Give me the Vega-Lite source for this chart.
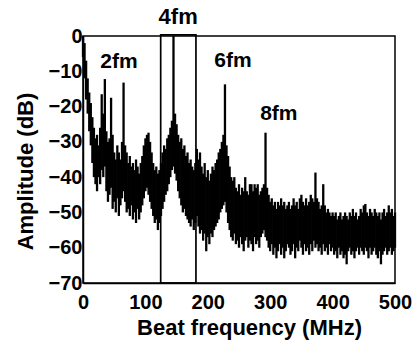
{
  "$schema": "https://vega.github.io/schema/vega-lite/v6.json",
  "width": 312,
  "height": 247,
  "autosize": {"type": "pad"},
  "padding": {"left": 13, "top": 6, "right": 6, "bottom": 2},
  "config": {
    "font": "Liberation Sans",
    "view": {"stroke": "#000", "strokeWidth": 1.5},
    "axis": {
      "grid": false,
      "ticks": false,
      "domainColor": "#000",
      "domainWidth": 1.5,
      "labelFont": "Liberation Sans",
      "labelFontWeight": "bold",
      "labelFontSize": 20,
      "labelColor": "#000",
      "labelOverlap": false,
      "titleFont": "Liberation Sans",
      "titleFontWeight": "bold",
      "titleFontSize": 22,
      "titleColor": "#000"
    }
  },
  "datasets": {
    "spec": [
      {"f":0,"hi":0,"lo":-6},{"f":2.5,"hi":-2,"lo":-12},{"f":5,"hi":-7,"lo":-18},{"f":7.5,"hi":-12,"lo":-22},{"f":10,"hi":-16,"lo":-27},
      {"f":12.5,"hi":-19,"lo":-31},{"f":15,"hi":-23,"lo":-36},{"f":17.5,"hi":-26,"lo":-40},{"f":20,"hi":-29,"lo":-42},{"f":22.5,"hi":-28,"lo":-44},
      {"f":25,"hi":-31,"lo":-40},{"f":27.5,"hi":-26,"lo":-42},{"f":30,"hi":-16.5,"lo":-38},{"f":32.5,"hi":-22,"lo":-40},{"f":35,"hi":-12.2,"lo":-37},
      {"f":37.5,"hi":-27,"lo":-44},{"f":40,"hi":-30,"lo":-47},{"f":42.5,"hi":-29,"lo":-45},{"f":45,"hi":-17.5,"lo":-43},{"f":47.5,"hi":-28,"lo":-49},
      {"f":50,"hi":-33,"lo":-47},{"f":52.5,"hi":-35,"lo":-50},{"f":55,"hi":-31,"lo":-46},{"f":57.5,"hi":-33,"lo":-51},{"f":60,"hi":-35,"lo":-48},
      {"f":62.5,"hi":-30,"lo":-46},{"f":65,"hi":-13.2,"lo":-44},{"f":67.5,"hi":-31,"lo":-47},{"f":70,"hi":-33,"lo":-50},{"f":72.5,"hi":-36,"lo":-49},
      {"f":75,"hi":-34,"lo":-51},{"f":77.5,"hi":-37,"lo":-48},{"f":80,"hi":-36,"lo":-52},{"f":82.5,"hi":-38,"lo":-50},{"f":85,"hi":-35,"lo":-53},
      {"f":87.5,"hi":-37,"lo":-49},{"f":90,"hi":-39,"lo":-52},{"f":92.5,"hi":-36,"lo":-50},{"f":95,"hi":-34,"lo":-48},{"f":97.5,"hi":-31,"lo":-46},
      {"f":100,"hi":-29,"lo":-44},{"f":102.5,"hi":-28,"lo":-43},{"f":105,"hi":-27.4,"lo":-45},{"f":107.5,"hi":-30,"lo":-47},{"f":110,"hi":-33,"lo":-49},
      {"f":112.5,"hi":-36,"lo":-51},{"f":115,"hi":-38,"lo":-53},{"f":117.5,"hi":-37,"lo":-52},{"f":120,"hi":-39,"lo":-55},{"f":122.5,"hi":-38,"lo":-53},
      {"f":125,"hi":-36,"lo":-51},{"f":127.5,"hi":-33,"lo":-49},{"f":130,"hi":-31,"lo":-47},{"f":132.5,"hi":-32,"lo":-45},{"f":135,"hi":-29,"lo":-44},
      {"f":137.5,"hi":-28,"lo":-42},{"f":140,"hi":-26,"lo":-40},{"f":142.5,"hi":-24,"lo":-38},{"f":145,"hi":0,"lo":-37},{"f":147.5,"hi":-22,"lo":-39},
      {"f":150,"hi":-25,"lo":-41},{"f":152.5,"hi":-28,"lo":-44},{"f":155,"hi":-30,"lo":-46},{"f":157.5,"hi":-29,"lo":-48},{"f":160,"hi":-32,"lo":-50},
      {"f":162.5,"hi":-31,"lo":-49},{"f":165,"hi":-34,"lo":-51},{"f":167.5,"hi":-33,"lo":-52},{"f":170,"hi":-36,"lo":-53},{"f":172.5,"hi":-35,"lo":-54},
      {"f":175,"hi":-37,"lo":-52},{"f":177.5,"hi":-38,"lo":-55},{"f":180,"hi":-36,"lo":-53},{"f":182.5,"hi":-32,"lo":-51},{"f":185,"hi":-35,"lo":-54},
      {"f":187.5,"hi":-33,"lo":-56},{"f":190,"hi":-37,"lo":-55},{"f":192.5,"hi":-39,"lo":-58},{"f":195,"hi":-36,"lo":-56},{"f":197.5,"hi":-40,"lo":-61},
      {"f":200,"hi":-38,"lo":-57},{"f":202.5,"hi":-41,"lo":-59},{"f":205,"hi":-39,"lo":-56},{"f":207.5,"hi":-37,"lo":-57},{"f":210,"hi":-38,"lo":-55},
      {"f":212.5,"hi":-36,"lo":-54},{"f":215,"hi":-35,"lo":-53},{"f":217.5,"hi":-33,"lo":-52},{"f":220,"hi":-32,"lo":-50},{"f":222.5,"hi":-30,"lo":-49},
      {"f":225,"hi":-28,"lo":-48},{"f":227.5,"hi":-13.7,"lo":-47},{"f":230,"hi":-31,"lo":-50},{"f":232.5,"hi":-34,"lo":-53},{"f":235,"hi":-37,"lo":-55},
      {"f":237.5,"hi":-40,"lo":-57},{"f":240,"hi":-41,"lo":-58},{"f":242.5,"hi":-40,"lo":-56},{"f":245,"hi":-43,"lo":-59},{"f":247.5,"hi":-44,"lo":-58},
      {"f":250,"hi":-42,"lo":-60},{"f":252.5,"hi":-45,"lo":-57},{"f":255,"hi":-43,"lo":-59},{"f":257.5,"hi":-44,"lo":-61},{"f":260,"hi":-40,"lo":-58},
      {"f":262.5,"hi":-44,"lo":-57},{"f":265,"hi":-45,"lo":-60},{"f":267.5,"hi":-42,"lo":-58},{"f":270,"hi":-42,"lo":-59},{"f":272.5,"hi":-44,"lo":-61},
      {"f":275,"hi":-42,"lo":-57},{"f":277.5,"hi":-43,"lo":-59},{"f":280,"hi":-42,"lo":-58},{"f":282.5,"hi":-45,"lo":-60},{"f":285,"hi":-44,"lo":-57},
      {"f":287.5,"hi":-43,"lo":-56},{"f":290,"hi":-42,"lo":-55},{"f":292.5,"hi":-27.4,"lo":-57},{"f":295,"hi":-43,"lo":-58},{"f":297.5,"hi":-45,"lo":-60},
      {"f":300,"hi":-47,"lo":-61},{"f":302.5,"hi":-46,"lo":-59},{"f":305,"hi":-48,"lo":-62},{"f":307.5,"hi":-47,"lo":-60},{"f":310,"hi":-49,"lo":-63},
      {"f":312.5,"hi":-47,"lo":-61},{"f":315,"hi":-48,"lo":-59},{"f":317.5,"hi":-46,"lo":-62},{"f":320,"hi":-48,"lo":-60},{"f":322.5,"hi":-47,"lo":-63},
      {"f":325,"hi":-49,"lo":-61},{"f":327.5,"hi":-48,"lo":-59},{"f":330,"hi":-47,"lo":-60},{"f":332.5,"hi":-49,"lo":-62},{"f":335,"hi":-48,"lo":-61},
      {"f":337.5,"hi":-46,"lo":-59},{"f":340,"hi":-48,"lo":-63},{"f":342.5,"hi":-47,"lo":-60},{"f":345,"hi":-49,"lo":-61},{"f":347.5,"hi":-46,"lo":-58},
      {"f":350,"hi":-45,"lo":-60},{"f":352.5,"hi":-47,"lo":-62},{"f":355,"hi":-48,"lo":-59},{"f":357.5,"hi":-46,"lo":-61},{"f":360,"hi":-48,"lo":-60},
      {"f":362.5,"hi":-47,"lo":-62},{"f":365,"hi":-45,"lo":-59},{"f":367.5,"hi":-46,"lo":-61},{"f":370,"hi":-47,"lo":-58},{"f":372.5,"hi":-38.7,"lo":-60},
      {"f":375,"hi":-46,"lo":-59},{"f":377.5,"hi":-47,"lo":-61},{"f":380,"hi":-49,"lo":-60},{"f":382.5,"hi":-48,"lo":-62},{"f":385,"hi":-42,"lo":-59},
      {"f":387.5,"hi":-48,"lo":-61},{"f":390,"hi":-50,"lo":-60},{"f":392.5,"hi":-49,"lo":-62},{"f":395,"hi":-50,"lo":-59},{"f":397.5,"hi":-51,"lo":-61},
      {"f":400,"hi":-50,"lo":-60},{"f":402.5,"hi":-51,"lo":-62},{"f":405,"hi":-50,"lo":-61},{"f":407.5,"hi":-52,"lo":-63},{"f":410,"hi":-51,"lo":-60},
      {"f":412.5,"hi":-50,"lo":-62},{"f":415,"hi":-52,"lo":-61},{"f":417.5,"hi":-51,"lo":-63},{"f":420,"hi":-50,"lo":-62},{"f":422.5,"hi":-51,"lo":-64.7},
      {"f":425,"hi":-52,"lo":-61},{"f":427.5,"hi":-50,"lo":-60},{"f":430,"hi":-51,"lo":-62},{"f":432.5,"hi":-49,"lo":-61},{"f":435,"hi":-51,"lo":-63},
      {"f":437.5,"hi":-50,"lo":-61},{"f":440,"hi":-52,"lo":-60},{"f":442.5,"hi":-51,"lo":-62},{"f":445,"hi":-49,"lo":-60},{"f":447.5,"hi":-50,"lo":-61},
      {"f":450,"hi":-48,"lo":-62},{"f":452.5,"hi":-47.6,"lo":-60},{"f":455,"hi":-50,"lo":-61},{"f":457.5,"hi":-51,"lo":-63},{"f":460,"hi":-49,"lo":-60},
      {"f":462.5,"hi":-50,"lo":-62},{"f":465,"hi":-51,"lo":-61},{"f":467.5,"hi":-49,"lo":-60},{"f":470,"hi":-50,"lo":-62},{"f":472.5,"hi":-51,"lo":-63},
      {"f":475,"hi":-50,"lo":-61},{"f":477.5,"hi":-52,"lo":-64.7},{"f":480,"hi":-50,"lo":-62},{"f":482.5,"hi":-49,"lo":-61},{"f":485,"hi":-51,"lo":-60},
      {"f":487.5,"hi":-50,"lo":-62},{"f":490,"hi":-48,"lo":-61},{"f":492.5,"hi":-50,"lo":-60},{"f":495,"hi":-49,"lo":-62},{"f":497.5,"hi":-51,"lo":-61},
      {"f":500,"hi":-50,"lo":-60}
    ],
    "box": [
      {"x1": 124.5, "x2": 181, "y1": -70, "y2": 0.3}
    ],
    "labels": [
      {"f": 57.7, "a": -9.0, "label": "2fm", "main": false},
      {"f": 152.5, "a": 3.3, "label": "4fm", "main": true},
      {"f": 240.4, "a": -8.7, "label": "6fm", "main": false},
      {"f": 313.8, "a": -23.9, "label": "8fm", "main": false}
    ]
  },
  "layer": [
    {
      "data": {"name": "spec"},
      "mark": {"type": "rule", "color": "#000", "strokeWidth": 2.3},
      "encoding": {
        "x": {
          "field": "f", "type": "quantitative",
          "scale": {"domain": [0, 500], "nice": false},
          "axis": {
            "title": "Beat frequency (MHz)",
            "values": [0, 100, 200, 300, 400, 500],
            "labelBaseline": "alphabetic",
            "labelPadding": 25,
            "labelFlush": false,
            "titleBaseline": "alphabetic",
            "titleX": 166,
            "titleY": 51,
            "titleAnchor": "middle"
          }
        },
        "y": {
          "field": "hi", "type": "quantitative",
          "scale": {"domain": [-70, 0], "nice": false},
          "axis": {
            "title": "Amplitude (dB)",
            "tickCount": 8,
            "labelPadding": 1,
            "labelFlush": false,
            "titleBaseline": "alphabetic",
            "titleX": -51,
            "titleY": 135,
            "titleAnchor": "middle"
          }
        },
        "y2": {"field": "lo"}
      }
    },
    {
      "data": {"name": "box"},
      "mark": {"type": "rect", "fillOpacity": 0, "stroke": "#000", "strokeWidth": 1.7},
      "encoding": {
        "x": {"field": "x1", "type": "quantitative"},
        "x2": {"field": "x2"},
        "y": {"field": "y1", "type": "quantitative"},
        "y2": {"field": "y2"}
      }
    },
    {
      "data": {"name": "labels"},
      "transform": [{"filter": "!datum.main"}],
      "mark": {"type": "text", "font": "Liberation Sans", "fontWeight": "bold", "fontSize": 21, "color": "#000", "align": "center", "baseline": "alphabetic"},
      "encoding": {
        "x": {"field": "f", "type": "quantitative"},
        "y": {"field": "a", "type": "quantitative"},
        "text": {"field": "label"}
      }
    },
    {
      "data": {"name": "labels"},
      "transform": [{"filter": "datum.main"}],
      "mark": {"type": "text", "font": "Liberation Sans", "fontWeight": "bold", "fontSize": 22, "color": "#000", "align": "center", "baseline": "alphabetic"},
      "encoding": {
        "x": {"field": "f", "type": "quantitative"},
        "y": {"field": "a", "type": "quantitative"},
        "text": {"field": "label"}
      }
    }
  ]
}
